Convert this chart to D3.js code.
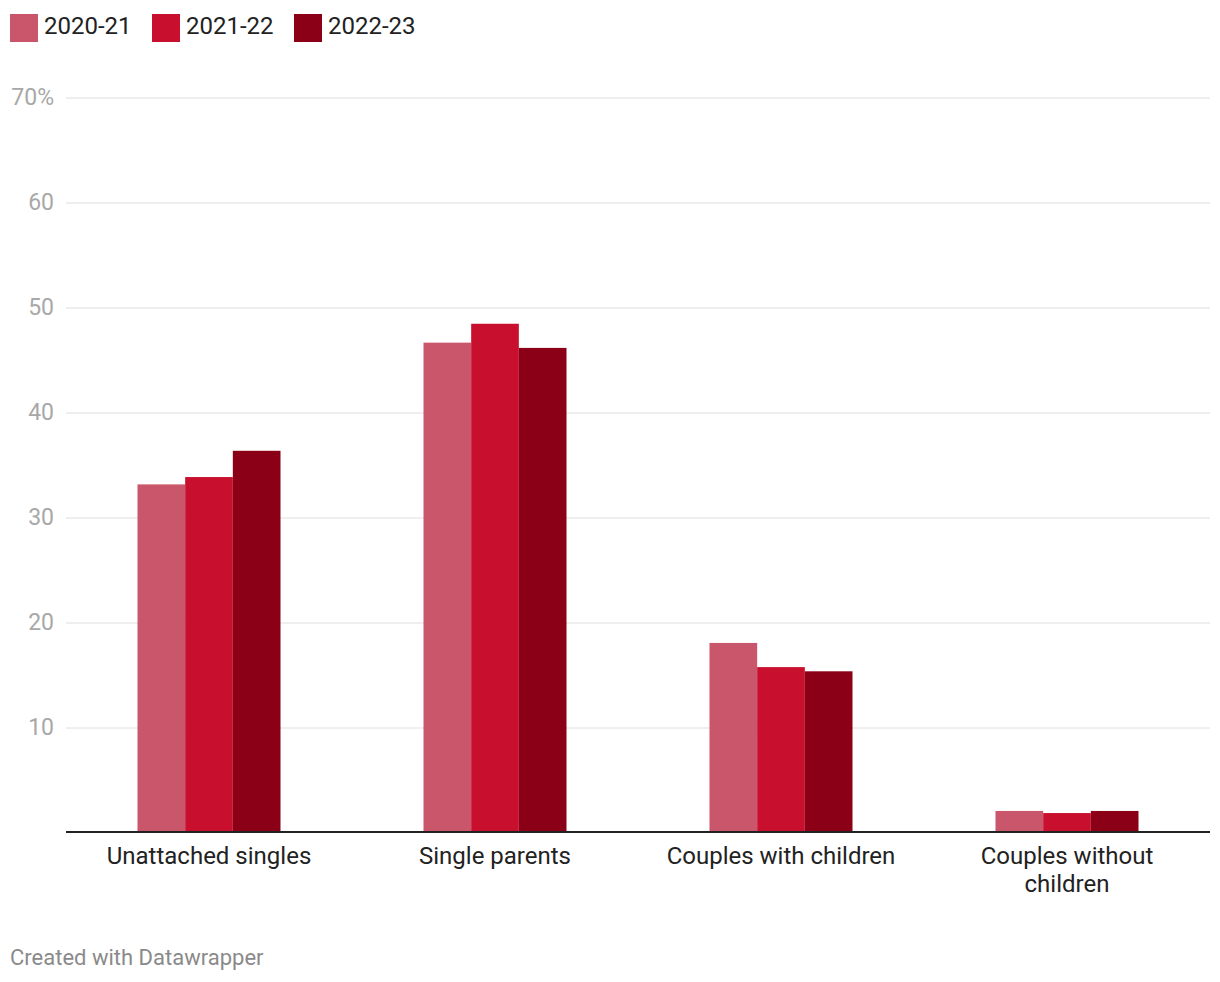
<!DOCTYPE html>
<html><head><meta charset="utf-8">
<script src="https://cdn.jsdelivr.net/npm/d3@7"></script>
<style>
body{margin:0;background:#fff;font-family:Roboto,sans-serif;}
</style></head>
<body>
<svg id="chart" width="1220" height="982"></svg>
<script>
const categories = ["Unattached singles", "Single parents", "Couples with children", "Couples without children"];
const seriesNames = ["2020-21", "2021-22", "2022-23"];
const v2020 = [33.2, 46.7, 18.1, 2.1];
const v2021 = [33.9, 48.5, 15.8, 1.9];
const v2022 = [36.4, 46.2, 15.4, 2.1];
const yTicks = [10, 20, 30, 40, 50, 60, 70];
const colors = ["#c9566a", "#c8102e", "#8b0016"];
const seriesValues = [v2020, v2021, v2022];

const svg = d3.select("#chart");
const x = d3.scaleBand().domain(categories).range([66, 1210]).paddingInner(0.5).paddingOuter(0.25);
const xs = d3.scaleBand().domain(seriesNames).range([0, x.bandwidth()]);
const y = d3.scaleLinear().domain([0, 70]).range([833, 98]);

// legend
const leg = svg.append("g");
seriesNames.forEach((s, i) => {
  const g = leg.append("g").attr("transform", `translate(${10 + i*142},14)`);
  g.append("rect").attr("width", 28).attr("height", 28).attr("fill", colors[i]);
  g.append("text").attr("x", 34).attr("y", 12).attr("dy", "0.35em")
    .attr("font-size", 24).attr("fill", "#222").text(s);
});

// grid
const grid = svg.append("g");
grid.selectAll("line").data(yTicks).join("line")
  .attr("x1", 66).attr("x2", 1210)
  .attr("y1", d => y(d)).attr("y2", d => y(d))
  .attr("stroke", "#dedede").attr("stroke-width", 1);
grid.selectAll("text").data(yTicks).join("text")
  .attr("x", 54).attr("y", d => y(d) - 1).attr("dy", "0.35em")
  .attr("text-anchor", "end")
  .attr("font-size", 23).attr("fill", "#a8a8a8")
  .text(d => d === 70 ? d + "%" : d);

// bars
seriesValues.forEach((vals, si) => {
  svg.append("g").selectAll("rect").data(categories).join("rect")
    .attr("x", (c) => x(c) + xs(seriesNames[si]))
    .attr("width", xs.bandwidth())
    .attr("y", (c, i) => y(vals[i]))
    .attr("height", (c, i) => y(0) - y(vals[i]))
    .attr("fill", colors[si]);
});

// axis line
svg.append("line").attr("x1", 66).attr("x2", 1210).attr("y1", 832).attr("y2", 832)
  .attr("stroke", "#222").attr("stroke-width", 2);

// x labels
const xl = svg.append("g");
const wrapMap = {"Couples without children": ["Couples without", "children"]};
categories.forEach(c => {
  const lines = wrapMap[c] || [c];
  const t = xl.append("text").attr("text-anchor", "middle").attr("font-size", 24).attr("fill", "#222");
  lines.forEach((ln, i) => {
    t.append("tspan").attr("x", x(c) + x.bandwidth()/2).attr("y", 856 + i*28).attr("dy", "0.35em").text(ln);
  });
});

// footer
svg.append("text").attr("x", 10).attr("y", 957).attr("dy", "0.35em")
  .attr("font-size", 22).attr("fill", "#8a8a8a").text("Created with Datawrapper");
</script>
</body></html>
